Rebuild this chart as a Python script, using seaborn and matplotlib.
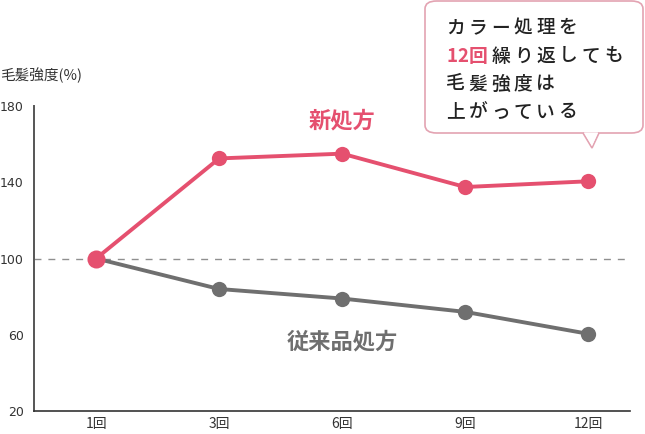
import matplotlib
matplotlib.use("Agg")
import matplotlib.pyplot as plt
import seaborn as sns
import pandas as pd
from matplotlib.patches import FancyBboxPatch, Polygon

categories = ["1回", "3回", "6回", "9回", "12回"]
new_values = [100, 152.5, 155, 137.5, 140.5]
old_values = [100, 84, 79, 72, 60.5]
series_names = ["新処方", "従来品処方"]
yticks = [20, 60, 100, 140, 180]

RED = "#e5506f"
GRAY = "#6f6f6f"

sns.set_style("white")
plt.rcParams['font.family'] = ['Noto Sans CJK JP', 'DejaVu Sans']

df = pd.DataFrame({
    "回数": categories * 2,
    "強度": new_values + old_values,
    "処方": [series_names[0]] * len(categories) + [series_names[1]] * len(categories),
})
df["pos"] = list(range(len(categories))) * 2

W, H = 645, 434
fig = plt.figure(figsize=(W / 100, H / 100), dpi=100)
ax = fig.add_axes([34 / W, 1 - 411 / H, (630 - 34) / W, (411 - 106) / H])

ax.axhline(100, color="#8f8f8f", lw=1, ls=(0, (5, 5)), zorder=1)

sns.lineplot(data=df, x="pos", y="強度", hue="処方", hue_order=series_names[::-1],
             palette={series_names[0]: RED, series_names[1]: GRAY},
             marker="o", markersize=11, markeredgewidth=0, linewidth=2.8,
             sort=False, legend=False, ax=ax, zorder=3)
ax.plot([0], [new_values[0]], "o", color=RED, markersize=13, markeredgewidth=0, zorder=5)

ax.set_xlim(-0.505, 4.34)
ax.set_ylim(20, 180)
ax.set_xticks(range(len(categories)))
ax.set_xticklabels(categories)
ax.set_yticks(yticks)
ax.set_yticklabels([str(v) for v in yticks])
ax.set_xlabel("")
ax.set_ylabel("")
for s in ["top", "right"]:
    ax.spines[s].set_visible(False)
ax.spines["left"].set_color("#555555")
ax.spines["left"].set_linewidth(1.4)
ax.spines["bottom"].set_color("#333333")
ax.spines["bottom"].set_linewidth(1.2)
ax.tick_params(axis="y", direction="in", length=7, width=1.2, color="#555555",
               labelsize=9, labelcolor="#333333", pad=7.5)
ax.tick_params(axis="x", length=0, labelsize=10, labelcolor="#333333", pad=4)
for lab in ax.get_yticklabels():
    lab.set_family(['DejaVu Sans'])

fig.text(0 / W, 1 - 75 / H, "毛髪強度(%)", fontsize=10.5, color="#333333", va="center", ha="left")

ax.text(2, 172, series_names[0], color=RED, fontsize=16, fontweight="bold", ha="center", va="center")
ax.text(2, 56, series_names[1], color=GRAY, fontsize=16, fontweight="bold", ha="center", va="center")

def fx(px):
    return px / W

def fy(py):
    return 1 - py / H

box = FancyBboxPatch((fx(425), fy(133)), fx(643) - fx(425), fy(1) - fy(133),
                     boxstyle="round,pad=0,rounding_size=0.018",
                     transform=fig.transFigure, facecolor="white",
                     edgecolor="#e3a3b2", linewidth=1.2, zorder=10)
fig.patches.append(box)
tri = Polygon([(fx(583), fy(133)), (fx(592), fy(148)), (fx(599), fy(133))],
              closed=False, transform=fig.transFigure, facecolor="white",
              edgecolor="#e3a3b2", linewidth=1.2, zorder=11)
fig.patches.append(tri)
cover = Polygon([(fx(584), fy(132.4)), (fx(598), fy(132.4)), (fx(592), fy(146))],
                closed=True, transform=fig.transFigure, facecolor="white",
                edgecolor="none", zorder=12)
fig.patches.append(cover)

lines = [
    [("カラー処理を", "#222222")],
    [("12回", RED), ("繰り返しても", "#222222")],
    [("毛髪強度は", "#222222")],
    [("上がっている", "#222222")],
]
ys = [28, 56, 84, 112]
for line, yy in zip(lines, ys):
    x = 446
    for seg, col in line:
        for ch in seg:
            fig.text(fx(x), fy(yy), ch, fontsize=13.5, color=col, ha="left", va="center",
                     fontweight="bold" if col == RED else "medium", zorder=13)
            x += 11.5 if ch.isdigit() else 22.5

fig.savefig("out.png", dpi=100)
